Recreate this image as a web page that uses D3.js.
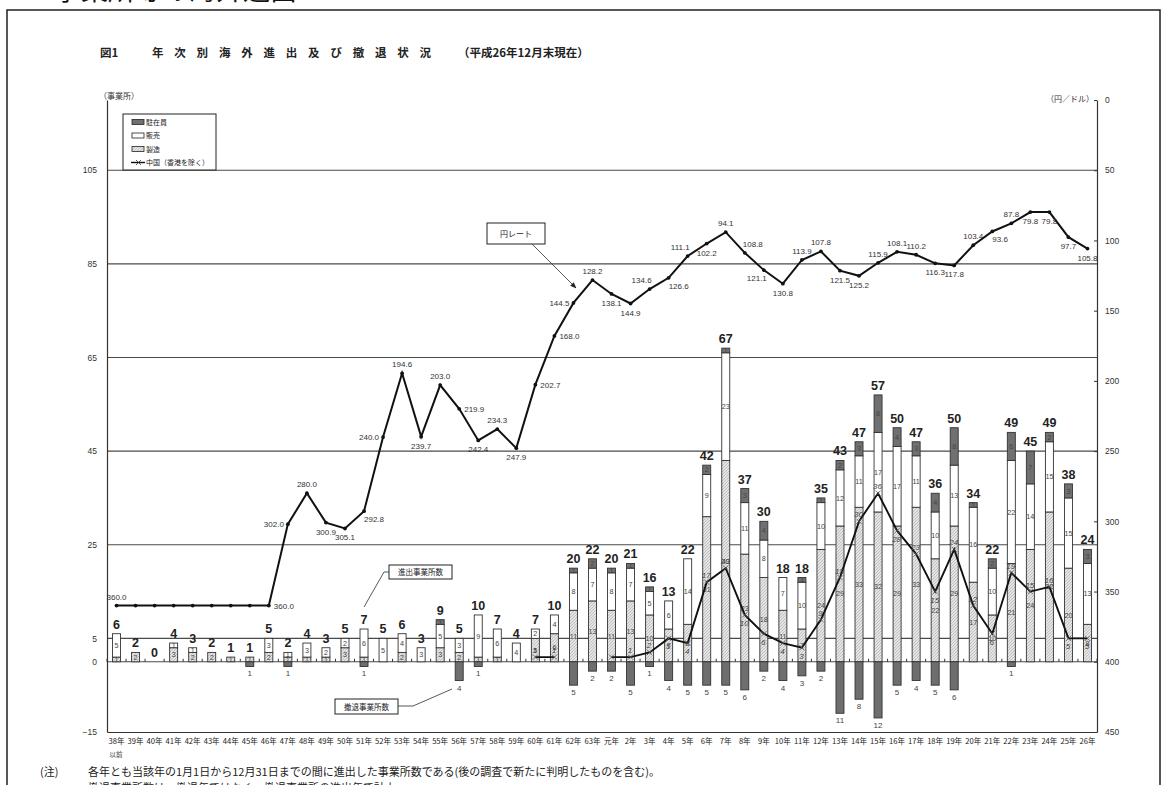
<!DOCTYPE html>
<html><head><meta charset="utf-8">
<script src="https://cdn.jsdelivr.net/npm/d3@7"></script>
<style>
body{margin:0;background:#fff;}
svg{display:block;font-family:"Liberation Sans","Noto Sans CJK JP",sans-serif;}
</style></head><body>
<svg id="c" width="1167" height="785"></svg>
<script>
// ---------------- data ----------------
const categories = ["38年","39年","40年","41年","42年","43年","44年","45年","46年","47年","48年","49年","50年","51年","52年","53年","54年","55年","56年","57年","58年","59年","60年","61年","62年","63年","元年","2年","3年","4年","5年","6年","7年","8年","9年","10年","11年","12年","13年","14年","15年","16年","17年","18年","19年","20年","21年","22年","23年","24年","25年","26年"];
// 製造
const manufacturing = [1,2,0,3,2,2,1,1,2,1,1,1,3,1,0,2,0,3,2,1,1,0,5,6,11,13,11,13,10,7,8,31,43,23,18,11,7,24,29,33,32,29,33,22,29,17,10,21,24,32,20,8];
// 販売
const sales = [5,0,0,1,1,0,0,0,3,1,3,2,2,6,5,4,3,5,3,9,6,4,2,4,8,7,8,7,5,6,14,9,23,11,8,7,10,10,12,11,17,17,11,10,13,16,10,22,14,15,15,13];
// 駐在員
const representative = [0,0,0,0,0,0,0,0,0,0,0,0,0,0,0,0,0,1,0,0,0,0,0,0,1,2,1,1,1,0,0,2,1,3,4,0,1,1,2,3,8,4,3,4,8,1,2,6,7,2,3,3];
// 撤退事業所数
const withdrawals = [0,0,0,0,0,0,0,1,0,1,0,0,0,1,0,0,0,0,4,1,0,0,0,0,5,2,2,5,1,4,5,5,5,6,2,4,3,2,11,8,12,5,4,5,6,0,0,1,0,0,0,0];
// 中国（香港を除く）
const chinaCount = [null,null,null,null,null,null,null,null,null,null,null,null,null,null,null,null,null,null,null,null,null,null,1,1,null,null,1,1,2,5,4,17,20,10,6,4,3,9,18,30,36,28,23,15,24,12,6,19,15,16,5,5];
// 円レート（円／ドル）
const yenRate = [360.0,360.0,360.0,360.0,360.0,360.0,360.0,360.0,360.0,302.0,280.0,300.9,305.1,292.8,240.0,194.6,239.7,203.0,219.9,242.4,234.3,247.9,202.7,168.0,144.5,128.2,138.1,144.9,134.6,126.6,111.1,102.2,94.1,108.8,121.1,130.8,113.9,107.8,121.5,125.2,115.9,108.1,110.2,116.3,117.8,103.4,93.6,87.8,79.8,79.8,97.7,105.8];
const leftTicks = [-15,0,5,25,45,65,85,105];
const gridValues = [0,5,25,45,65,85,105];
const rightTicks = [0,50,100,150,200,250,300,350,400,450];
const legendLabels = ["駐在員","販売","製造","中国（香港を除く）"];
// label placement codes (style only)
const yenLabelPos = ["a",null,null,null,null,null,null,null,"r","l","a","b","b","br","l","a","b","a","r","b","a","b","r","r","l","a","b","b","al","br","al","b","a","ar","bl","b","a","a","b","b","a","a","a","b","b","a","br","a","b","b","b","b"];
const chinaLabelPos = [null,null,null,null,null,null,null,null,null,null,null,null,null,null,null,null,null,null,null,null,null,null,"a","a",null,null,null,"a","a","b","b","a","a","b","b","b","b","a","a","a","a","b","a","b","a","a","b","a","a","a","b","b"];

// ---------------- layout ----------------
const svg = d3.select("#c");
const L = 107, R = 1097, T = 100, B = 732;
const JP = '"Noto Sans CJK JP",sans-serif';

const x = d3.scaleBand().domain(categories).range([L, R]).paddingInner(0.58).paddingOuter(0.29);
const y = d3.scaleLinear().domain([-15, 120]).range([B, T]);
const yR = d3.scaleLinear().domain([0, 450]).range([T, B]);
const cx = c => x(c) + x.bandwidth() / 2;

const defs = svg.append("defs");
const pat = defs.append("pattern").attr("id", "hatch").attr("patternUnits", "userSpaceOnUse").attr("width", 3).attr("height", 3);
pat.append("rect").attr("width", 3).attr("height", 3).attr("fill", "#e4e4e4");
pat.append("path").attr("d", "M-1,1L1,-1M0,3L3,0M2,4L4,2").attr("stroke", "#a8a8a8").attr("stroke-width", 0.6);
defs.append("marker").attr("id", "arr").attr("viewBox", "0 0 10 10").attr("refX", 9).attr("refY", 5)
  .attr("markerWidth", 7).attr("markerHeight", 7).attr("orient", "auto")
  .append("path").attr("d", "M0,1L10,5L0,9z").attr("fill", "#222");

// header (cut off at top) and frame
svg.append("text").attr("x", 0).attr("y", 0).attr("font-size", 27).attr("font-family", JP).attr("fill", "#111").text("三　事業所等の海外進出");
svg.append("rect").attr("x", 7).attr("y", 10).attr("width", 1153).attr("height", 800).attr("fill", "none").attr("stroke", "#111").attr("stroke-width", 1.4);

// title
const titleG = svg.append("g").attr("font-family", JP).attr("font-size", 11.5).attr("fill", "#222").attr("font-weight", "bold");
titleG.append("text").attr("x", 100).attr("y", 57).text("図1");
titleG.append("text").attr("x", 152).attr("y", 57).attr("letter-spacing", 10.8).text("年次別海外進出及び撤退状況");
titleG.append("text").attr("x", 458).attr("y", 57).text("（平成26年12月末現在）");

// gridlines
svg.append("g").selectAll("line").data(gridValues).join("line")
  .attr("x1", L).attr("x2", R).attr("y1", d => y(d)).attr("y2", d => y(d))
  .attr("stroke", "#4a4a4a").attr("stroke-width", 1.1);

// left axis
const gL = svg.append("g").attr("transform", `translate(${L},0)`)
  .call(d3.axisLeft(y).tickValues(leftTicks).tickSize(0).tickPadding(10));
gL.select(".domain").attr("stroke", "#333").attr("stroke-width", 1.2);
gL.selectAll("text").attr("font-size", 8.5).attr("fill", "#333").attr("font-family", "Liberation Sans");
svg.append("text").attr("x", 99).attr("y", 99).attr("font-size", 8).attr("font-family", JP).attr("fill", "#333").text("（事業所）");

// right axis
const gR = svg.append("g").attr("transform", `translate(${R},0)`)
  .call(d3.axisRight(yR).tickValues(rightTicks).tickSizeInner(-3).tickSizeOuter(0).tickPadding(8));
gR.select(".domain").attr("stroke", "#333").attr("stroke-width", 1.2);
gR.selectAll(".tick line").attr("stroke", "#333");
gR.selectAll("text").attr("font-size", 8.5).attr("fill", "#333").attr("font-family", "Liberation Sans");
svg.append("text").attr("x", 1094).attr("y", 102).attr("text-anchor", "end").attr("font-size", 8).attr("font-family", JP).attr("fill", "#333").text("（円／ドル）");

// bottom axis
const gB = svg.append("g").attr("transform", `translate(0,${B})`)
  .call(d3.axisBottom(x).tickSize(0).tickSizeOuter(0).tickPadding(7));
gB.select(".domain").attr("stroke", "#333").attr("stroke-width", 1.2);
gB.selectAll("text").attr("font-size", 7.6).attr("fill", "#222").attr("font-family", JP);
svg.append("text").attr("x", cx(categories[0]) - 7).attr("y", B + 25).attr("font-size", 6.5).attr("font-family", JP).attr("fill", "#333").text("以前");

// small ticks on the zero line at band boundaries
svg.append("g").selectAll("line").data(d3.range(categories.length + 1)).join("line")
  .attr("x1", i => L + i * x.step()).attr("x2", i => L + i * x.step())
  .attr("y1", y(0)).attr("y2", y(0) - 3).attr("stroke", "#333").attr("stroke-width", 1);

// stacked bars
const table = categories.map((c, i) => ({ cat: c, mfg: manufacturing[i], sales: sales[i], rep: representative[i] }));
const keys = ["mfg", "sales", "rep"];
const fills = { mfg: "url(#hatch)", sales: "#ffffff", rep: "#707070" };
const series = d3.stack().keys(keys)(table);
const barG = svg.append("g");
series.forEach(s => {
  const segs = s.filter(d => d[1] - d[0] > 0);
  barG.append("g").selectAll("rect").data(segs).join("rect")
    .attr("x", d => x(d.data.cat)).attr("width", x.bandwidth())
    .attr("y", d => y(d[1])).attr("height", d => y(d[0]) - y(d[1]))
    .attr("fill", fills[s.key]).attr("stroke", "#333").attr("stroke-width", 0.9);
  barG.append("g").selectAll("text").data(segs).join("text")
    .attr("x", d => cx(d.data.cat)).attr("y", d => (y(d[0]) + y(d[1])) / 2 + 2.6)
    .attr("text-anchor", "middle").attr("font-size", 7.2).attr("fill", "#444")
    .text(d => d[1] - d[0]);
});
// withdrawal bars
const wData = categories.map((c, i) => ({ cat: c, v: withdrawals[i] })).filter(d => d.v > 0);
barG.append("g").selectAll("rect").data(wData).join("rect")
  .attr("x", d => x(d.cat)).attr("width", x.bandwidth())
  .attr("y", y(0)).attr("height", d => y(-d.v) - y(0))
  .attr("fill", "#6e6e6e").attr("stroke", "#333").attr("stroke-width", 0.9);
barG.append("g").selectAll("text").data(wData).join("text")
  .attr("x", d => cx(d.cat)).attr("y", d => y(-d.v) + 10)
  .attr("text-anchor", "middle").attr("font-size", 8).attr("fill", "#444").text(d => d.v);
// totals
const totals = table.map(d => ({ cat: d.cat, v: d.mfg + d.sales + d.rep }));
barG.append("g").selectAll("text").data(totals).join("text")
  .attr("x", d => cx(d.cat)).attr("y", d => y(d.v) - 5)
  .attr("text-anchor", "middle").attr("font-size", 12.5).attr("font-weight", "bold").attr("fill", "#222")
  .text(d => d.v);

// China line
const cData = categories.map((c, i) => ({ cat: c, v: chinaCount[i], pos: chinaLabelPos[i] }));
svg.append("path").datum(cData)
  .attr("d", d3.line().defined(d => d.v != null).x(d => cx(d.cat)).y(d => y(d.v)))
  .attr("fill", "none").attr("stroke", "#111").attr("stroke-width", 1.9);
const cPts = cData.filter(d => d.v != null);
svg.append("g").selectAll("path").data(cPts).join("path")
  .attr("d", d => { const px = cx(d.cat), py = y(d.v), s = 2.6; return `M${px - s},${py - s}L${px + s},${py + s}M${px - s},${py + s}L${px + s},${py - s}`; })
  .attr("stroke", "#555").attr("stroke-width", 0.8);
svg.append("g").selectAll("text").data(cPts.filter(d => d.pos)).join("text")
  .attr("x", d => cx(d.cat) - 0.5).attr("y", d => y(d.v) + (d.pos === "a" ? -4 : 11))
  .attr("text-anchor", "middle").attr("font-size", 8).attr("font-style", "italic").attr("fill", "#444")
  .text(d => d.v);

// Yen line
const yData = categories.map((c, i) => ({ cat: c, v: yenRate[i], pos: yenLabelPos[i] }));
svg.append("path").datum(yData)
  .attr("d", d3.line().x(d => cx(d.cat)).y(d => yR(d.v)))
  .attr("fill", "none").attr("stroke", "#111").attr("stroke-width", 2);
svg.append("g").selectAll("circle").data(yData).join("circle")
  .attr("cx", d => cx(d.cat)).attr("cy", d => yR(d.v)).attr("r", 1.9).attr("fill", "#111");
const off = {
  a: [0, -6, "middle"], b: [0, 12, "middle"], l: [-4, 3, "end"], r: [5, 3, "start"],
  al: [2, -6, "end"], ar: [-2, -6, "start"], bl: [3, 11, "end"], br: [0, 11, "start"]
};
svg.append("g").selectAll("text").data(yData.filter(d => d.pos)).join("text")
  .attr("x", d => cx(d.cat) + off[d.pos][0]).attr("y", d => yR(d.v) + off[d.pos][1])
  .attr("text-anchor", d => off[d.pos][2]).attr("font-size", 8).attr("fill", "#333")
  .text(d => d.v.toFixed(1));

// legend
const lg = svg.append("g");
lg.append("rect").attr("x", 123).attr("y", 114).attr("width", 93).attr("height", 56).attr("fill", "#fff").attr("stroke", "#222").attr("stroke-width", 1);
const legFills = ["#707070", "#ffffff", "url(#hatch)"];
legendLabels.forEach((t, i) => {
  const ly = 122 + i * 13.5;
  if (i < 3) {
    lg.append("rect").attr("x", 132).attr("y", ly - 2.5).attr("width", 12).attr("height", 5).attr("fill", legFills[i]).attr("stroke", "#222").attr("stroke-width", 0.8);
  } else {
    lg.append("line").attr("x1", 131).attr("x2", 145).attr("y1", ly).attr("y2", ly).attr("stroke", "#111").attr("stroke-width", 1.4);
    lg.append("path").attr("d", `M${136},${ly - 2.5}L${141},${ly + 2.5}M${136},${ly + 2.5}L${141},${ly - 2.5}`).attr("stroke", "#333").attr("stroke-width", 0.8);
  }
  lg.append("text").attr("x", 146).attr("y", ly + 2.5).attr("font-size", 7).attr("font-family", JP).attr("fill", "#222").text(t);
});

// annotations
const ann = svg.append("g").attr("font-family", JP);
ann.append("rect").attr("x", 487).attr("y", 223).attr("width", 58).attr("height", 21).attr("fill", "#fff").attr("stroke", "#222");
ann.append("text").attr("x", 516).attr("y", 237).attr("text-anchor", "middle").attr("font-size", 8).attr("fill", "#222").text("円レート");
ann.append("line").attr("x1", 532).attr("y1", 244).attr("x2", 576).attr("y2", 288).attr("stroke", "#444").attr("stroke-width", 0.9).attr("marker-end", "url(#arr)");

ann.append("rect").attr("x", 389).attr("y", 565).attr("width", 63).attr("height", 14).attr("fill", "#fff").attr("stroke", "#222");
ann.append("text").attr("x", 420.5).attr("y", 575).attr("text-anchor", "middle").attr("font-size", 7.5).attr("fill", "#222").text("進出事業所数");
ann.append("polyline").attr("points", "389,572 384,572 364,607").attr("fill", "none").attr("stroke", "#444").attr("stroke-width", 0.9);

ann.append("rect").attr("x", 335).attr("y", 699).attr("width", 63).attr("height", 15).attr("fill", "#fff").attr("stroke", "#222");
ann.append("text").attr("x", 366.5).attr("y", 709.5).attr("text-anchor", "middle").attr("font-size", 7.5).attr("fill", "#222").text("撤退事業所数");
ann.append("polyline").attr("points", "398,706 413,706 452,689").attr("fill", "none").attr("stroke", "#444").attr("stroke-width", 0.9);

// notes
const nt = svg.append("g").attr("font-family", JP).attr("font-size", 11).attr("fill", "#222");
nt.append("text").attr("x", 40).attr("y", 776).text("(注)");
nt.append("text").attr("x", 88).attr("y", 776).text("各年とも当該年の1月1日から12月31日までの間に進出した事業所数である(後の調査で新たに判明したものを含む)。");
nt.append("text").attr("x", 88).attr("y", 792).text("撤退事業所数は、撤退年ではなく、撤退事業所の進出年で計上。");
</script>
</body></html>
